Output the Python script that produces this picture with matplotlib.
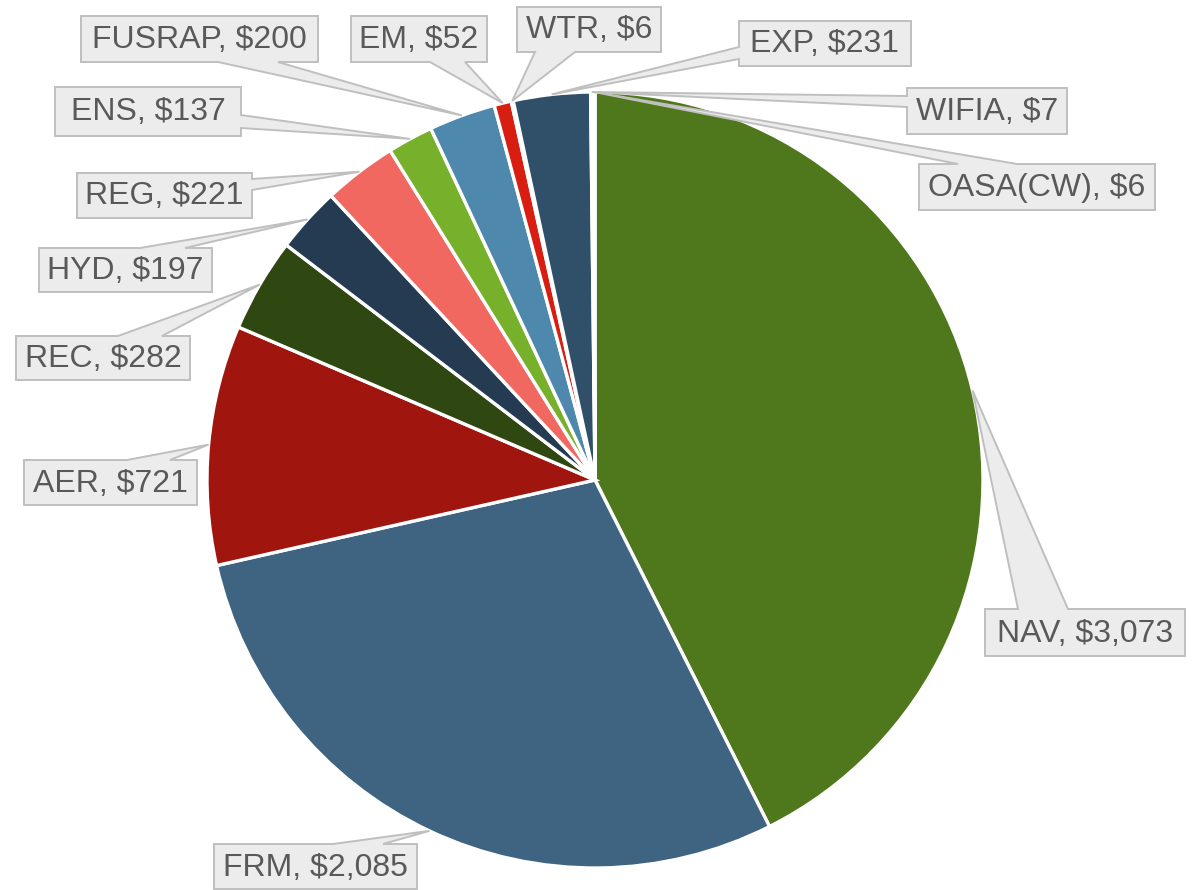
import numpy as np
import matplotlib.pyplot as plt
from matplotlib.patches import Polygon

# ==============================
# Data
# ==============================
labels = ["NAV", "FRM", "AER", "REC", "HYD", "REG", "ENS", "FUSRAP",
          "EM", "WTR", "EXP", "WIFIA", "OASA(CW)"]
values = [3073, 2085, 721, 282, 197, 221, 137, 200, 52, 6, 231, 7, 6]
colors = ["#4f781c", "#3e6481", "#a0150e", "#2f4710", "#243b52", "#f0685f",
          "#77b02a", "#4f88ad", "#d81e10", "#ffffff", "#30506a", "#ffffff",
          "#ffffff"]

# callout layout in pixels: box (x0, y0, x1, y1), side of pointer, pointer base
callouts = {
    "NAV":      ((985, 609, 1185, 656), "top", (1018, 1068)),
    "FRM":      ((214, 844, 417, 889), "top", (333, 383)),
    "AER":      ((24, 460, 197, 505), "top", (127, 170)),
    "REC":      ((16, 336, 190, 380), "top", (118, 162)),
    "HYD":      ((39, 248, 212, 292), "top", (140, 185)),
    "REG":      ((77, 173, 252, 218), "right", (179, 190)),
    "ENS":      ((55, 87, 241, 136), "right", (115, 128)),
    "FUSRAP":   ((81, 16, 318, 62), "bottom", (218, 278)),
    "EM":       ((351, 16, 487, 62), "bottom", (430, 465)),
    "WTR":      ((517, 7, 661, 52), "bottom", (535, 575)),
    "EXP":      ((739, 21, 911, 66), "left", (47, 59)),
    "WIFIA":    ((907, 88, 1067, 134), "left", (96, 107)),
    "OASA(CW)": ((919, 164, 1155, 210), "top", (958, 1017)),
}

cx, cy, r = 595, 480, 388

# ==============================
# Pie
# ==============================
fig = plt.figure(figsize=(12.01, 8.90), dpi=100)
ax = fig.add_axes([0, 0, 1, 1])

wedges, _ = ax.pie(values, colors=colors, center=(cx, cy), radius=r,
                   startangle=-90, counterclock=True,
                   wedgeprops=dict(edgecolor="white", linewidth=2.4))

ax.set_xlim(0, 1201)
ax.set_ylim(890, 0)
ax.set_aspect("equal")
ax.axis("off")


def callout_shape(box, side, base, tip):
    x0, y0, x1, y1 = box
    a, b = base
    if side == "top":
        pts = [(x0, y0), (a, y0), tip, (b, y0), (x1, y0), (x1, y1), (x0, y1)]
    elif side == "bottom":
        pts = [(x0, y0), (x1, y0), (x1, y1), (b, y1), tip, (a, y1), (x0, y1)]
    elif side == "right":
        pts = [(x0, y0), (x1, y0), (x1, a), tip, (x1, b), (x1, y1), (x0, y1)]
    else:
        pts = [(x0, y0), (x1, y0), (x1, y1), (x0, y1), (x0, b), tip, (x0, a)]
    return pts


# ==============================
# Callout labels
# ==============================
for w, lab, val in zip(wedges, labels, values):
    mid = np.deg2rad((w.theta1 + w.theta2) / 2)
    tip = (cx + r * np.cos(mid), cy + r * np.sin(mid))
    box, side, base = callouts[lab]
    poly = Polygon(callout_shape(box, side, base, tip), closed=True,
                   facecolor="#ececec", edgecolor="#bfbfbf", linewidth=1.4,
                   zorder=5)
    ax.add_patch(poly)
    ax.text((box[0] + box[2]) / 2, (box[1] + box[3]) / 2 + 1,
            f"{lab}, ${val:,}", ha="center", va="center", fontsize=23,
            family="Liberation Sans", color="#595959", zorder=6)

plt.savefig("out.png", dpi=100)
